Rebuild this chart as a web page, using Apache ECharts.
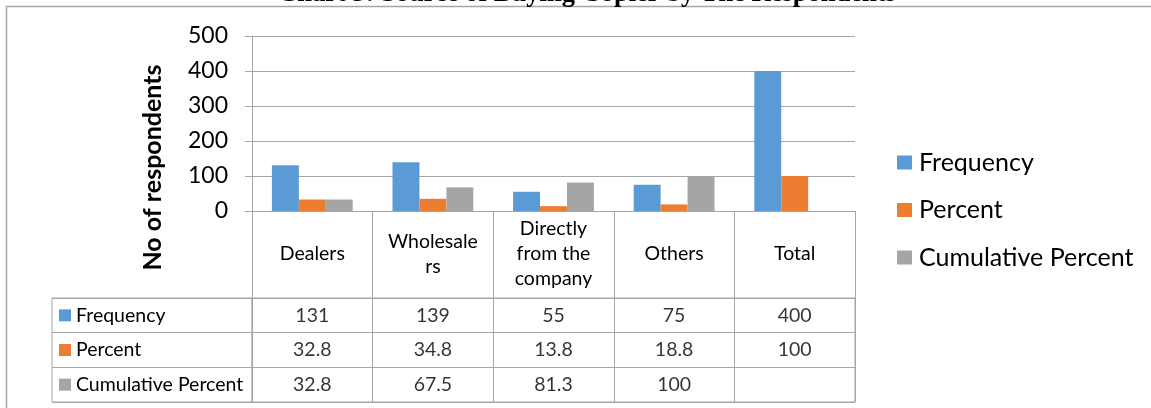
<!DOCTYPE html>
<html>
<head>
<meta charset="utf-8">
<script src="https://cdn.jsdelivr.net/npm/echarts@6/dist/echarts.min.js"></script>
<style>
  html, body { margin: 0; padding: 0; background: #fff; }
  #chart3 { width: 1151px; height: 408px; }
</style>
</head>
<body>
<div id="chart3"></div>
<script>
  // data
  var categories = ['Dealers', 'Wholesalers', 'Directly from the company', 'Others', 'Total'];
  var categoryLabels = ['Dealers', 'Wholesale\nrs', 'Directly\nfrom the\ncompany', 'Others', 'Total'];
  var seriesNames = ['Frequency', 'Percent', 'Cumulative Percent'];
  var frequency = [131, 139, 55, 75, 400];
  var percent = [32.8, 34.8, 13.8, 18.8, 100];
  var cumulative = [32.8, 67.5, 81.3, 100, null];
  var yTicks = [0, 100, 200, 300, 400, 500];

  var colors = ['#5b9bd5', '#ed7d31', '#a5a5a5'];
  var lineColor = '#a6a6a6';
  var font = 'Lato, "Open Sans", sans-serif';
  var rows = [frequency, percent, cumulative];

  // table cells: [column, row, value]
  var cells = [];
  rows.forEach(function (r, ri) {
    r.forEach(function (v, ci) {
      cells.push([ci, ri, v == null ? '' : String(v)]);
    });
  });

  var richRow = { t: { fontSize: 19.5, fontFamily: font, color: '#000', padding: [0, 0, 0, 5] } };
  seriesNames.forEach(function (n, i) {
    richRow['s' + i] = { backgroundColor: colors[i], width: 12, height: 12 };
  });

  var chart = echarts.init(document.getElementById('chart3'));
  chart.setOption({
    animation: false,
    color: colors,
    title: {
      text: 'Chart 3: Source of Buying Copier by The Respondents',
      left: 273,
      top: -24,
      textStyle: { fontFamily: '"Liberation Serif", serif', fontWeight: 'bold', fontSize: 26.5, color: '#000' }
    },
    graphic: [{
      type: 'rect',
      shape: { x: 6.5, y: 6.5, width: 1200, height: 500 },
      style: { fill: null, stroke: lineColor, lineWidth: 1.5 },
      silent: true
    }],
    legend: {
      orient: 'vertical',
      left: 892,
      top: 145,
      icon: 'rect',
      itemWidth: 15,
      itemHeight: 14,
      itemGap: 22.5,
      textStyle: { fontFamily: font, fontSize: 25, color: '#000', padding: [0, 0, 0, 2] },
      data: seriesNames
    },
    grid: [
      { left: 252, top: 36, width: 603, height: 175 },
      { left: 52, top: 298, width: 200, height: 104, show: true, borderColor: lineColor, borderWidth: 1 },
      { left: 252, top: 298, width: 603, height: 104, show: true, borderColor: lineColor, borderWidth: 1 }
    ],
    xAxis: [
      {
        gridIndex: 0,
        type: 'category',
        data: categories,
        axisLine: { lineStyle: { color: lineColor, width: 1 } },
        axisTick: { show: true, length: 87, interval: 0, lineStyle: { color: lineColor } },
        axisLabel: {
          interval: 0,
          margin: 43,
          verticalAlign: 'middle',
          fontFamily: font,
          fontSize: 19.5,
          lineHeight: 25,
          color: '#000',
          formatter: function (v, i) { return categoryLabels[i]; }
        }
      },
      { gridIndex: 1, type: 'value', show: false },
      {
        gridIndex: 2,
        type: 'category',
        data: categories,
        axisLine: { show: false },
        axisTick: { show: false },
        axisLabel: { show: false },
        splitLine: { show: true, interval: 0, lineStyle: { color: lineColor, width: 1 } }
      }
    ],
    yAxis: [
      {
        gridIndex: 0,
        type: 'value',
        min: yTicks[0],
        max: yTicks[yTicks.length - 1],
        interval: 100,
        name: 'No of respondents',
        nameLocation: 'middle',
        nameGap: 87,
        nameTextStyle: { fontFamily: font, fontWeight: 'bold', fontSize: 25, color: '#000', padding: [0, 88, 0, 0] },
        axisLine: { show: true, lineStyle: { color: lineColor, width: 1 } },
        axisTick: { show: true, length: 7, lineStyle: { color: lineColor } },
        axisLabel: { margin: 24, fontFamily: font, fontSize: 23, color: '#000' },
        splitLine: { lineStyle: { color: lineColor, width: 1 } }
      },
      {
        gridIndex: 1,
        type: 'category',
        inverse: true,
        data: seriesNames,
        axisLine: { show: false },
        axisTick: { show: false },
        splitLine: { show: true, interval: 0, lineStyle: { color: lineColor, width: 1 } },
        axisLabel: {
          inside: true,
          margin: 7,
          interval: 0,
          formatter: function (v, i) { return '{s' + i + '|}{t|' + v + '}'; },
          rich: richRow
        }
      },
      {
        gridIndex: 2,
        type: 'category',
        inverse: true,
        data: seriesNames,
        axisLine: { show: false },
        axisTick: { show: false },
        axisLabel: { show: false },
        splitLine: { show: true, interval: 0, lineStyle: { color: lineColor, width: 1 } }
      }
    ],
    series: [
      { name: seriesNames[0], type: 'bar', xAxisIndex: 0, yAxisIndex: 0, barGap: '0%', barCategoryGap: '33%', data: frequency },
      { name: seriesNames[1], type: 'bar', xAxisIndex: 0, yAxisIndex: 0, barGap: '0%', barCategoryGap: '33%', data: percent },
      { name: seriesNames[2], type: 'bar', xAxisIndex: 0, yAxisIndex: 0, barGap: '0%', barCategoryGap: '33%', data: cumulative },
      {
        type: 'scatter',
        xAxisIndex: 2,
        yAxisIndex: 2,
        symbolSize: 1,
        itemStyle: { color: 'rgba(0,0,0,0)' },
        label: {
          show: true,
          position: 'inside',
          fontFamily: font,
          fontSize: 19.5,
          color: '#000',
          formatter: function (p) { return p.value[2]; }
        },
        data: cells
      }
    ]
  });
</script>
</body>
</html>
